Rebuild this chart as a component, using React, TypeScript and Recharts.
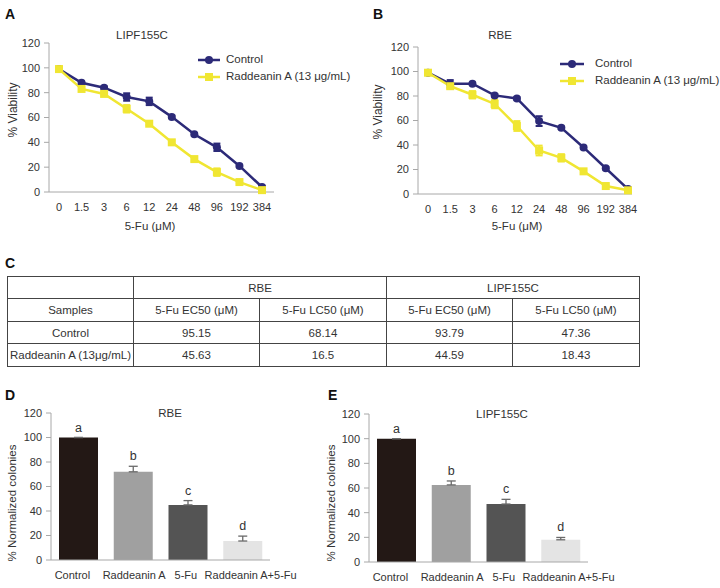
import {
  Bar,
  BarChart,
  Cell,
  ErrorBar,
  LabelList,
  Legend,
  Line,
  LineChart,
  XAxis,
  YAxis,
} from "recharts";

const DOSES = ["0", "1.5", "3", "6", "12", "24", "48", "96", "192", "384"];

const LIPF_CONTROL = [99, 88, 84, 76.5, 73, 60.5, 46.5, 36, 21, 4];
const LIPF_CONTROL_ERR = [1, 1, 1, 3, 3, 1, 1, 3, 1, 1];
const LIPF_RADD = [99, 83, 79, 67, 55, 40, 26.5, 16, 8, 1.5];
const LIPF_RADD_ERR = [1, 1.5, 1.5, 3, 1, 1.5, 1.5, 3, 1, 1.5];

const RBE_CONTROL = [99, 90, 90, 80.5, 78, 59.5, 54, 38, 21, 4];
const RBE_CONTROL_ERR = [1, 3, 1, 1, 1, 4, 1, 1, 1, 1];
const RBE_RADD = [99, 88, 81, 73.5, 55.5, 35.5, 29.5, 18.5, 6.5, 3];
const RBE_RADD_ERR = [1.5, 2, 3, 3.5, 4, 4, 3, 1.5, 1, 1.5];

const GROUPS = ["Control", "Raddeanin A", "5-Fu", "Raddeanin A+5-Fu"];
const LETTERS = ["a", "b", "c", "d"];
const RBE_COLONIES = [100, 72, 45, 15.5];
const RBE_COLONIES_ERR = [0, 4.5, 3.5, 4];
const LIPF_COLONIES = [100, 62.5, 47, 18];
const LIPF_COLONIES_ERR = [0, 3.2, 3.8, 1.9];

const TABLE_HEAD = ["Samples", "5-Fu EC50 (\u03bcM)", "5-Fu LC50 (\u03bcM)", "5-Fu EC50 (\u03bcM)", "5-Fu LC50 (\u03bcM)"];
const TABLE_ROWS = [
  ["Control", "95.15", "68.14", "93.79", "47.36"],
  ["Raddeanin A (13\u03bcg/mL)", "45.63", "16.5", "44.59", "18.43"],
];

const NAVY = "#2c2a78";
const YELLOW = "#f0e632";
const AXIS = "#a8a8a8";
const INK = "#333";
const BAR_FILLS = ["#231815", "#a0a0a0", "#545454", "#e4e4e4"];
const FONT = "'Liberation Sans', Arial, sans-serif";
const VIAB_TICKS = [0, 20, 40, 60, 80, 100, 120];
// group labels under the bars sit a little spread out in the original
const GROUP_LABEL_SHIFT = [-6, 1, -2, 8];

const viabilityRows = (ctrl: number[], ctrlErr: number[], radd: number[], raddErr: number[]) =>
  DOSES.map((dose, i) => ({
    dose,
    control: ctrl[i],
    controlErr: ctrlErr[i],
    radd: radd[i],
    raddErr: raddErr[i],
  }));

const Square = (props: any) => {
  const { cx, cy, index } = props;
  if (cx == null || cy == null) return <g key={index} />;
  return <rect key={index} x={cx - 4} y={cy - 4} width={8} height={8} fill={YELLOW} />;
};

function LegendBox({ lineW, gap }: { lineW: number; gap: number }) {
  const items = [
    { label: "Control", color: NAVY, shape: "circle" },
    { label: "Raddeanin A (13 \u03bcg/mL)", color: YELLOW, shape: "square" },
  ];
  return (
    <div style={{ fontSize: 11.5, color: INK, lineHeight: "17px" }}>
      {items.map((it) => (
        <div key={it.label} style={{ display: "flex", alignItems: "center", height: 17 }}>
          <svg width={lineW} height={10} style={{ marginRight: gap }}>
            <line x1={0} y1={5} x2={lineW} y2={5} stroke={it.color} strokeWidth={2.5} />
            {it.shape === "circle" ? (
              <circle cx={lineW / 2} cy={5} r={4} fill={it.color} />
            ) : (
              <rect x={lineW / 2 - 4} y={1} width={8} height={8} fill={it.color} />
            )}
          </svg>
          <span>{it.label}</span>
        </div>
      ))}
    </div>
  );
}

function ViabilityChart(p: {
  data: any[];
  left: number;
  yWidth: number;
  top: number;
  bottom: number;
  right: number;
  padL: number;
  padR: number;
  legendLeft: number;
  legendTop: number;
  lineW: number;
  gap: number;
}) {
  return (
    <div style={{ position: "absolute", left: p.left, top: 0 }}>
      <LineChart
        width={360}
        height={240}
        data={p.data}
        margin={{ top: p.top, right: p.right, bottom: p.bottom, left: 0 }}
      >
        <XAxis
          dataKey="dose"
          padding={{ left: p.padL, right: p.padR }}
          tickLine={false}
          axisLine={{ stroke: AXIS }}
          tick={{ fill: INK, fontSize: 11 }}
          tickMargin={5}
          height={30}
          interval={0}
        />
        <YAxis
          domain={[0, 120]}
          ticks={VIAB_TICKS}
          width={p.yWidth}
          tickSize={5}
          tickMargin={4}
          axisLine={{ stroke: AXIS }}
          tickLine={{ stroke: AXIS }}
          tick={{ fill: INK, fontSize: 11 }}
        />
        <Legend
          layout="vertical"
          verticalAlign="middle"
          align="center"
          wrapperStyle={{ left: p.legendLeft, top: p.legendTop, width: "auto" }}
          content={() => <LegendBox lineW={p.lineW} gap={p.gap} />}
        />
        <Line
          dataKey="control"
          name="Control"
          stroke={NAVY}
          strokeWidth={2.5}
          dot={{ r: 4, fill: NAVY, stroke: NAVY, strokeWidth: 0 }}
          isAnimationActive={false}
        >
          <ErrorBar dataKey="controlErr" width={3.5} stroke={NAVY} strokeWidth={2} direction="y" />
        </Line>
        <Line
          dataKey="radd"
          name="Raddeanin A (13 \u03bcg/mL)"
          stroke={YELLOW}
          strokeWidth={2.5}
          dot={Square}
          isAnimationActive={false}
        >
          <ErrorBar dataKey="raddErr" width={3.5} stroke={YELLOW} strokeWidth={2} direction="y" />
        </Line>
      </LineChart>
    </div>
  );
}

const GroupTick = (props: any) => {
  const { x, y, payload, index } = props;
  const i = typeof index === "number" ? index : GROUPS.indexOf(payload.value);
  return (
    <text
      key={payload.value}
      x={Number(x) + (GROUP_LABEL_SHIFT[i] ?? 0)}
      y={y}
      dy="0.71em"
      textAnchor="middle"
      fill={INK}
      fontSize={11}
    >
      {payload.value}
    </text>
  );
};

function ColonyChart(p: {
  values: number[];
  errs: number[];
  left: number;
  yWidth: number;
  top: number;
  right: number;
  xHeight: number;
}) {
  const data = GROUPS.map((name, i) => ({
    name,
    value: p.values[i],
    errRange: [0, p.errs[i]],
    letter: LETTERS[i],
  }));
  const letterLabel = (props: any) => {
    const { x, y, width, height, value } = props;
    const i = LETTERS.indexOf(value);
    const ppu = Number(height) / p.values[i];
    const yTop = Number(y) - p.errs[i] * ppu;
    return (
      <text
        key={value}
        x={Number(x) + Number(width) / 2}
        y={yTop - 6}
        textAnchor="middle"
        fill={INK}
        fontSize={12.5}
      >
        {value}
      </text>
    );
  };
  return (
    <div style={{ position: "absolute", left: p.left, top: 375 }}>
      <BarChart
        width={p.yWidth + 219 + p.right}
        height={213}
        data={data}
        margin={{ top: p.top, right: p.right, bottom: 0, left: 0 }}
        barSize={39}
      >
        <XAxis
          dataKey="name"
          tickLine={false}
          axisLine={{ stroke: AXIS }}
          tick={GroupTick}
          tickMargin={5}
          height={p.xHeight}
          interval={0}
        />
        <YAxis
          domain={[0, 120]}
          ticks={VIAB_TICKS}
          width={p.yWidth}
          tickSize={5}
          tickMargin={4}
          axisLine={{ stroke: AXIS }}
          tickLine={{ stroke: AXIS }}
          tick={{ fill: INK, fontSize: 11 }}
        />
        <Bar dataKey="value" isAnimationActive={false}>
          {data.map((d, i) => (
            <Cell key={d.name} fill={BAR_FILLS[i]} />
          ))}
          <ErrorBar dataKey="errRange" width={4.5} stroke="#6a6a6a" strokeWidth={1.3} direction="y" />
          <LabelList dataKey="letter" content={letterLabel} />
        </Bar>
      </BarChart>
    </div>
  );
}

const abs = (left: number, top: number, extra: any = {}) => ({
  position: "absolute" as const,
  left,
  top,
  ...extra,
});

function PanelLetter({ ch, left, top }: { ch: string; left: number; top: number }) {
  return (
    <div style={abs(left, top, { fontSize: 14, fontWeight: "bold", lineHeight: "14px", color: "#111" })}>
      {ch}
    </div>
  );
}

function Caption({ text, cx, cy, size = 11.5 }: { text: string; cx: number; cy: number; size?: number }) {
  return (
    <div
      style={abs(cx - 80, cy - 8, {
        width: 160,
        textAlign: "center",
        fontSize: size,
        lineHeight: "16px",
        color: INK,
        whiteSpace: "nowrap",
      })}
    >
      {text}
    </div>
  );
}

function VCaption({ text, cx, cy, size = 12 }: { text: string; cx: number; cy: number; size?: number }) {
  return (
    <div
      style={abs(cx - 80, cy - 8, {
        width: 160,
        textAlign: "center",
        fontSize: size,
        lineHeight: "16px",
        color: INK,
        whiteSpace: "nowrap",
        transform: "rotate(-90deg)",
      })}
    >
      {text}
    </div>
  );
}

const cell = {
  border: "1.5px solid #444",
  textAlign: "center" as const,
  padding: 0,
  fontSize: 11.5,
  color: INK,
};

export default function App() {
  const lipf = viabilityRows(LIPF_CONTROL, LIPF_CONTROL_ERR, LIPF_RADD, LIPF_RADD_ERR);
  const rbe = viabilityRows(RBE_CONTROL, RBE_CONTROL_ERR, RBE_RADD, RBE_RADD_ERR);
  return (
    <div
      style={{
        position: "absolute",
        left: 0,
        top: 0,
        width: 720,
        height: 588,
        background: "#fff",
        overflow: "hidden",
        fontFamily: FONT,
      }}
    >
      <ViabilityChart
        data={lipf}
        left={0}
        yWidth={49}
        top={43}
        bottom={18}
        right={86}
        padL={10}
        padR={12}
        legendLeft={198}
        legendTop={51}
        lineW={22}
        gap={6}
      />
      <ViabilityChart
        data={rbe}
        left={360}
        yWidth={58}
        top={47}
        bottom={16}
        right={88}
        padL={10}
        padR={4}
        legendLeft={200}
        legendTop={55}
        lineW={24}
        gap={11}
      />
      <PanelLetter ch="A" left={5} top={7} />
      <PanelLetter ch="B" left={373} top={7} />
      <Caption text="LIPF155C" cx={142} cy={35} />
      <Caption text="RBE" cx={500} cy={35} />
      <Caption text={"5-Fu (\u03bcM)"} cx={150} cy={226} />
      <Caption text={"5-Fu (\u03bcM)"} cx={517} cy={226} />
      <VCaption text="% Viability" cx={13} cy={110} />
      <VCaption text="% Viability" cx={378} cy={112} />

      <PanelLetter ch="C" left={5} top={256} />
      <table
        style={abs(7, 276, {
          width: 632,
          borderCollapse: "collapse",
          tableLayout: "fixed",
          fontFamily: FONT,
        })}
      >
        <colgroup>
          <col style={{ width: 126 }} />
          <col style={{ width: 126 }} />
          <col style={{ width: 127 }} />
          <col style={{ width: 126 }} />
          <col style={{ width: 127 }} />
        </colgroup>
        <tbody>
          <tr style={{ height: 22 }}>
            <td style={cell}></td>
            <td style={cell} colSpan={2}>RBE</td>
            <td style={cell} colSpan={2}>LIPF155C</td>
          </tr>
          <tr style={{ height: 23 }}>
            {TABLE_HEAD.map((h, i) => (
              <td key={i} style={cell}>{h}</td>
            ))}
          </tr>
          {TABLE_ROWS.map((row, r) => (
            <tr key={r} style={{ height: r === 0 ? 22 : 23 }}>
              {row.map((v, i) => (
                <td key={i} style={cell}>{v}</td>
              ))}
            </tr>
          ))}
        </tbody>
      </table>

      <ColonyChart
        values={RBE_COLONIES}
        errs={RBE_COLONIES_ERR}
        left={0}
        yWidth={51}
        top={38}
        right={90}
        xHeight={28}
      />
      <ColonyChart
        values={LIPF_COLONIES}
        errs={LIPF_COLONIES_ERR}
        left={320}
        yWidth={49}
        top={39}
        right={52}
        xHeight={26}
      />
      <PanelLetter ch="D" left={5} top={388} />
      <PanelLetter ch="E" left={328} top={388} />
      <Caption text="RBE" cx={170} cy={413} />
      <Caption text="LIPF155C" cx={502} cy={414} />
      <VCaption text="% Normalized colonies" cx={12} cy={503} size={11.5} />
      <VCaption text="% Normalized colonies" cx={331} cy={503} size={11.5} />
    </div>
  );
}
